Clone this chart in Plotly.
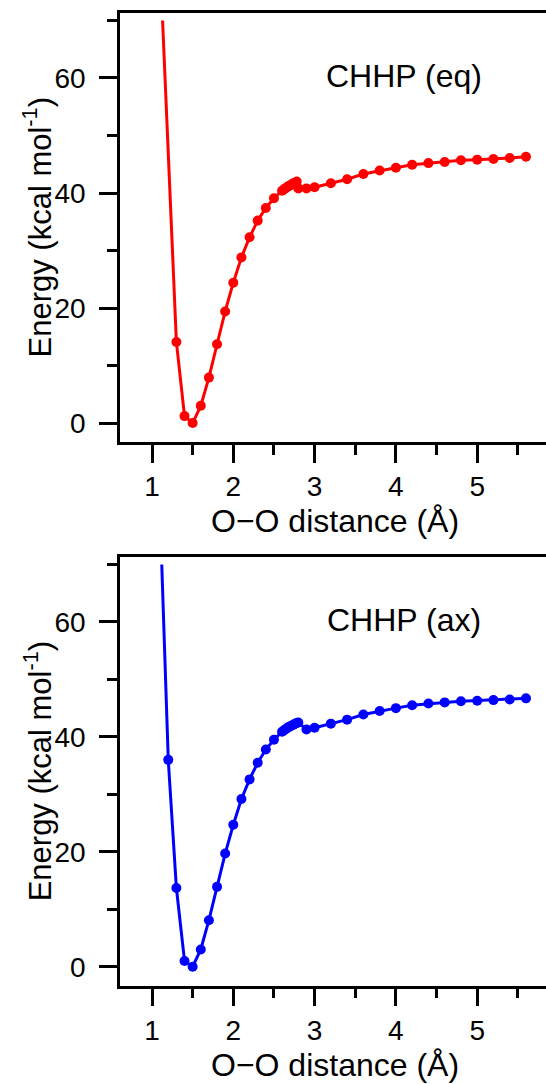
import plotly.graph_objects as go

W, H = 546, 1084

# CHHP (eq) potential energy scan (first point drawn as line only)
eq_x = [1.13, 1.30, 1.40, 1.50, 1.60, 1.70, 1.80, 1.90, 2.00, 2.10, 2.20, 2.30, 2.40, 2.50, 2.60,
        2.62, 2.64, 2.66, 2.68, 2.70, 2.72, 2.74, 2.76, 2.78, 2.80, 2.90, 3.00, 3.20, 3.40, 3.60,
        3.80, 4.00, 4.20, 4.40, 4.60, 4.80, 5.00, 5.20, 5.40, 5.60]
eq_y = [70.0, 14.1, 1.2, 0.0, 3.0, 7.9, 13.7, 19.4, 24.4, 28.8, 32.3, 35.2, 37.4, 39.1, 40.4,
        40.6, 40.8, 41.0, 41.2, 41.3, 41.5, 41.7, 41.8, 42.0, 40.8, 40.8, 41.0, 41.7, 42.4, 43.3,
        43.9, 44.4, 44.9, 45.2, 45.4, 45.7, 45.8, 45.9, 46.1, 46.3]

# CHHP (ax) potential energy scan (first point drawn as line only)
ax_x = [1.12, 1.20, 1.30, 1.40, 1.50, 1.60, 1.70, 1.80, 1.90, 2.00, 2.10, 2.20, 2.30, 2.40, 2.50,
        2.60, 2.62, 2.64, 2.66, 2.68, 2.70, 2.72, 2.74, 2.76, 2.78, 2.80, 2.90, 3.00, 3.20, 3.40,
        3.60, 3.80, 4.00, 4.20, 4.40, 4.60, 4.80, 5.00, 5.20, 5.40, 5.60]
ax_y = [70.0, 36.0, 13.7, 1.0, 0.0, 3.0, 8.1, 13.9, 19.7, 24.7, 29.2, 32.6, 35.5, 37.8, 39.5,
        40.9, 41.1, 41.3, 41.5, 41.7, 41.8, 42.0, 42.1, 42.3, 42.4, 42.5, 41.3, 41.6, 42.3, 43.0,
        43.9, 44.5, 45.0, 45.5, 45.8, 46.0, 46.2, 46.3, 46.4, 46.5, 46.7]

panel_labels = ["CHHP (eq)", "CHHP (ax)"]
x_tickvals = [1, 2, 3, 4, 5]
y_tickvals = [0, 20, 40, 60]
x_title = "O\u2212O distance (\u00c5)"
y_title = "Energy (kcal mol<sup>-1</sup>)"

FONT = "Liberation Sans, Arial, sans-serif"
fig = go.Figure()

series = [(eq_x, eq_y, "#ff0000", "x", "y"), (ax_x, ax_y, "#0000ff", "x2", "y2")]
for xs, ys, col, xa, ya in series:
    fig.add_trace(go.Scatter(x=xs, y=ys, mode="lines", line=dict(color=col, width=3),
                             xaxis=xa, yaxis=ya, showlegend=False, hoverinfo="skip"))
    fig.add_trace(go.Scatter(x=xs[1:], y=ys[1:], mode="markers",
                             marker=dict(color=col, size=10, line=dict(width=0)),
                             xaxis=xa, yaxis=ya, showlegend=False))

def px2fx(px):
    return px / W

def py2fy(py):
    return 1 - py / H

panels = [(13, 442), (557, 985.7)]
xtitle_centers = [521, 1065]
xl, xr = 120, 546
xrange_ = [1 - 32 / 81.3, 1 + (xr - 152) / 81.3]
yrange_ = [-3.3, 71.3]

axcommon = dict(showline=True, linecolor="black", linewidth=2.5, ticks="outside",
                ticklen=18, tickwidth=2.5, tickcolor="black", showgrid=False, zeroline=False,
                tickfont=dict(family=FONT, size=28, color="black"), automargin=False)

layout = dict(width=W, height=H, margin=dict(l=0, r=0, t=0, b=0),
              plot_bgcolor="white", paper_bgcolor="white", showlegend=False)

names = [("xaxis", "yaxis", "y", "x"), ("xaxis2", "yaxis2", "y2", "x2")]
annotations = []
for i, ((top, bot), (xn, yn, yanch, xanch)) in enumerate(zip(panels, names)):
    layout[xn] = dict(axcommon, domain=[px2fx(xl), 1.0], range=xrange_, anchor=yanch,
                      tickvals=x_tickvals, mirror=True, ticklabelstandoff=0,
                      minor=dict(dtick=0.5, tick0=0, ticks="outside", ticklen=10,
                                 tickwidth=2.5, tickcolor="black", showgrid=False))
    layout[yn] = dict(axcommon, domain=[py2fy(bot), py2fy(top)], range=yrange_, anchor=xanch,
                      tickvals=y_tickvals, mirror=False, ticklabelstandoff=8,
                      minor=dict(dtick=10, tick0=0, ticks="outside", ticklen=10,
                                 tickwidth=2.5, tickcolor="black", showgrid=False))
    # x title
    annotations.append(dict(text=x_title, xref="paper", yref="paper",
                            x=px2fx(335), y=py2fy(xtitle_centers[i]), xanchor="center",
                            yanchor="middle", showarrow=False,
                            font=dict(family=FONT, size=32, color="black")))
    # y title
    annotations.append(dict(text=y_title, xref="paper", yref="paper", textangle=-90,
                            x=px2fx(38), y=py2fy((top + bot) / 2), xanchor="center",
                            yanchor="middle", showarrow=False,
                            font=dict(family=FONT, size=31, color="black")))
    # panel label
    annotations.append(dict(text=panel_labels[i], xref="paper", yref="paper",
                            x=px2fx(404), y=py2fy(top + 63), xanchor="center",
                            yanchor="middle", showarrow=False,
                            font=dict(family=FONT, size=32, color="black")))

layout["annotations"] = annotations
fig.update_layout(**layout)
fig.write_html("out.html")
